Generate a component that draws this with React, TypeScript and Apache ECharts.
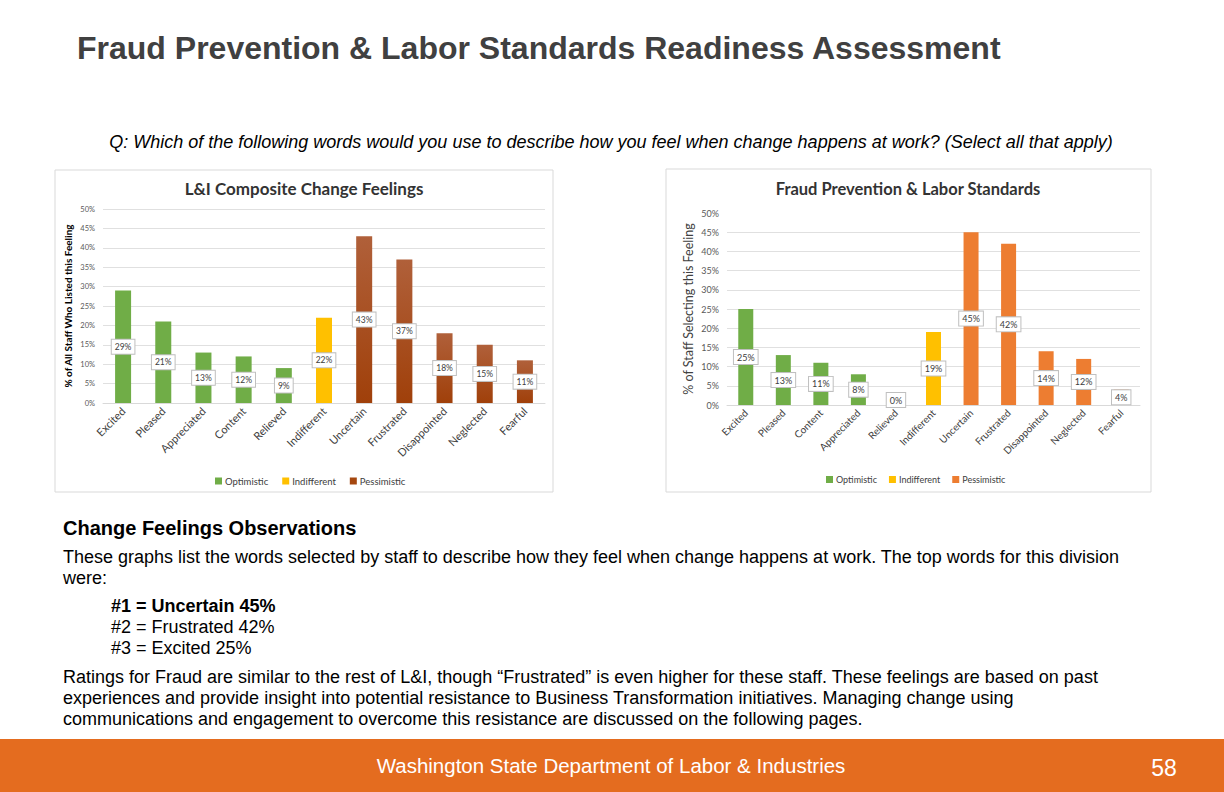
import React, { useEffect, useRef } from "react";
import * as echarts from "echarts";

const leftCategories = ["Excited", "Pleased", "Appreciated", "Content", "Relieved", "Indifferent", "Uncertain", "Frustrated", "Disappointed", "Neglected", "Fearful"];
const leftValues = [29, 21, 13, 12, 9, 22, 43, 37, 18, 15, 11];
const leftGroups = ["Optimistic", "Optimistic", "Optimistic", "Optimistic", "Optimistic", "Indifferent", "Pessimistic", "Pessimistic", "Pessimistic", "Pessimistic", "Pessimistic"];

const rightCategories = ["Excited", "Pleased", "Content", "Appreciated", "Relieved", "Indifferent", "Uncertain", "Frustrated", "Disappointed", "Neglected", "Fearful"];
const rightValues = [25, 13, 11, 8, 0, 19, 45, 42, 14, 12, 4];
const rightGroups = ["Optimistic", "Optimistic", "Optimistic", "Optimistic", "Optimistic", "Indifferent", "Pessimistic", "Pessimistic", "Pessimistic", "Pessimistic", "Pessimistic"];

const groupNames = ["Optimistic", "Indifferent", "Pessimistic"];
const yTicks = [0, 5, 10, 15, 20, 25, 30, 35, 40, 45, 50];

const FONT = "Liberation Sans, Arial, sans-serif";
const CFONT = "Lato, sans-serif";

const leftColors: any = {
  Optimistic: "#70AD47",
  Indifferent: "#FFC000",
  Pessimistic: {
    type: "linear", x: 0, y: 0, x2: 0, y2: 1,
    colorStops: [{ offset: 0, color: "#B0603A" }, { offset: 1, color: "#A0400A" }],
  },
};
const rightColors: any = { Optimistic: "#70AD47", Indifferent: "#FFC000", Pessimistic: "#ED7D31" };

function buildSeries(values: number[], groups: string[], colors: any, idx: number, barWidth: number, labelSize: number) {
  return groupNames.map((g) => ({
    type: "bar",
    name: g,
    xAxisIndex: idx,
    yAxisIndex: idx,
    barWidth,
    barGap: "-100%",
    itemStyle: { color: colors[g] },
    data: values.map((v, i) =>
      groups[i] === g ? (v === 0 ? { value: v, label: { offset: [0, -5] } } : v) : "-"
    ),
    label: {
      show: true,
      position: "inside",
      formatter: "{c}%",
      fontFamily: CFONT,
      fontSize: labelSize,
      color: "#404040",
      backgroundColor: "#ffffff",
      borderColor: "#bfbfbf",
      borderWidth: 1,
      padding: [3, 3, 2, 3],
    },
  }));
}

export default function App() {
  const ref = useRef<HTMLDivElement>(null);
  useEffect(() => {
    document.body.style.margin = "0";
    const chart = echarts.init(ref.current!, undefined, { renderer: "svg" });
    const yAxisCommon = (name: string, bold: boolean, fs: number, gap: number, showMax: boolean, tickFs: number) => ({
      type: "value",
      min: 0,
      max: 50,
      interval: 5,
      name,
      nameLocation: "middle",
      nameGap: gap,
      nameTextStyle: { fontFamily: CFONT, fontSize: fs, fontWeight: bold ? "bold" : "normal", color: bold ? "#000" : "#404040" },
      axisLabel: { formatter: (v: number) => (yTicks.includes(v) ? v + "%" : ""), fontFamily: CFONT, fontSize: tickFs, color: "#595959", margin: 8 },
      axisLine: { show: false },
      axisTick: { show: false },
      splitLine: { show: true, showMaxLine: showMax, lineStyle: { color: "#e0e0e0", width: 1 } },
    });
    const xAxisCommon = (cats: string[], idx: number, fs: number) => ({
      type: "category",
      gridIndex: idx,
      data: cats,
      axisLine: { show: true, lineStyle: { color: "#d9d9d9" } },
      axisTick: { show: false },
      axisLabel: { rotate: 45, fontFamily: CFONT, fontSize: fs, color: "#404040", margin: 6, interval: 0 },
    });

    const text = (x: number, y: number, t: string, style: any) => ({
      type: "text",
      x,
      y,
      style: { text: t, fontFamily: FONT, fill: "#000", textVerticalAlign: "middle", ...style },
    });

    const option: any = {
      animation: false,
      backgroundColor: "#ffffff",
      textStyle: { fontFamily: CFONT },
      grid: [
        { left: 103, right: 1224 - 545, top: 209, height: 194 },
        { left: 727, right: 1224 - 1140, top: 213, height: 192 },
      ],
      xAxis: [xAxisCommon(leftCategories, 0, 11), xAxisCommon(rightCategories, 1, 10)],
      yAxis: [
        { ...yAxisCommon("% of All Staff Who Listed this Feeling", true, 10, 30, true, 7.5), gridIndex: 0 },
        { ...yAxisCommon("% of Staff Selecting this Feeling", false, 12.5, 32, false, 9), gridIndex: 1 },
      ],
      legend: [
        {
          left: 210, top: 471, orient: "horizontal",
          itemWidth: 7, itemHeight: 7, itemGap: 14, icon: "rect",
          textStyle: { fontFamily: CFONT, fontSize: 9.5, color: "#404040", padding: [0, 0, 0, -2] },
          data: groupNames.map((g) => ({ name: g, itemStyle: { color: g === "Pessimistic" ? "#A5470F" : leftColors[g] } })),
          selectedMode: false,
        },
        {
          left: 821, top: 470, orient: "horizontal",
          itemWidth: 7, itemHeight: 7, itemGap: 12, icon: "rect",
          textStyle: { fontFamily: CFONT, fontSize: 9, color: "#404040", padding: [0, 0, 0, -2] },
          data: groupNames.map((g) => ({ name: g, itemStyle: { color: rightColors[g] } })),
          selectedMode: false,
        },
      ],
      series: [
        ...buildSeries(leftValues, leftGroups, leftColors, 0, 16, 8.5),
        ...buildSeries(rightValues, rightGroups, rightColors, 1, 15, 9),
      ],
      graphic: [
        // chart frames
        { type: "rect", shape: { x: 55, y: 170, width: 498, height: 322 }, style: { fill: "none", stroke: "#d9d9d9", lineWidth: 1 }, z: -1 },
        { type: "rect", shape: { x: 666, y: 169, width: 485, height: 323 }, style: { fill: "none", stroke: "#d9d9d9", lineWidth: 1 }, z: -1 },
        // chart titles
        text(304, 188, "L&I Composite Change Feelings", { fontFamily: CFONT, fontSize: 17, fontWeight: "bold", fill: "#333", textAlign: "center" }),
        text(908, 189, "Fraud Prevention & Labor Standards", { fontFamily: CFONT, fontSize: 16.5, fontWeight: "bold", fill: "#333", textAlign: "center" }),
        // page title
        text(77, 48, "Fraud Prevention & Labor Standards Readiness Assessment", { fontSize: 32, fontWeight: "bold", fill: "#404040" }),
        text(611, 142, "Q: Which of the following words would you use to describe how you feel when change happens at work? (Select all that apply)", { fontSize: 18, fontStyle: "italic", textAlign: "center" }),
        // observations
        text(63, 528, "Change Feelings Observations", { fontSize: 20, fontWeight: "bold" }),
        text(63, 557, "These graphs list the words selected by staff to describe how they feel when change happens at work. The top words for this division", { fontSize: 18 }),
        text(63, 578, "were:", { fontSize: 18 }),
        text(111, 606, "#1 = Uncertain 45%", { fontSize: 18, fontWeight: "bold" }),
        text(111, 627, "#2 = Frustrated 42%", { fontSize: 18 }),
        text(111, 648, "#3 = Excited 25%", { fontSize: 18 }),
        text(63, 677, "Ratings for Fraud are similar to the rest of L&I, though \u201cFrustrated\u201d is even higher for these staff. These feelings are based on past", { fontSize: 18 }),
        text(63, 698, "experiences and provide insight into potential resistance to Business Transformation initiatives. Managing change using", { fontSize: 18 }),
        text(63, 719, "communications and engagement to overcome this resistance are discussed on the following pages.", { fontSize: 18 }),
        // footer
        { type: "rect", shape: { x: 0, y: 739, width: 1224, height: 53 }, style: { fill: "#E46C1F" }, z: -1 },
        text(611, 765, "Washington State Department of Labor & Industries", { fontSize: 20.5, fill: "#ffffff", textAlign: "center" }),
        text(1164, 768, "58", { fontSize: 23, fill: "#ffffff", textAlign: "center" }),
      ],
    };
    chart.setOption(option);
    return () => chart.dispose();
  }, []);
  return <div ref={ref} style={{ position: "absolute", left: 0, top: 0, width: 1224, height: 792, background: "#fff" }} />;
}
